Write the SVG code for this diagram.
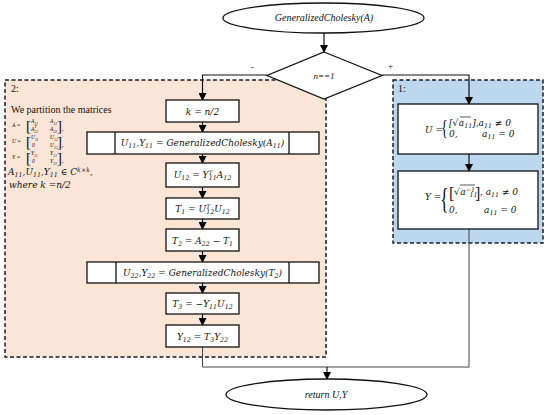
<svg xmlns="http://www.w3.org/2000/svg" width="550" height="415" viewBox="0 0 550 415">
<defs>
<marker id="ah" markerWidth="8" markerHeight="8" refX="7" refY="4" orient="auto" markerUnits="userSpaceOnUse">
<path d="M0,0 L8,4 L0,8 Z" fill="#000"/>
</marker>
<style>
.t{font-family:"Liberation Serif","Times New Roman",serif;fill:#111}
.i{font-style:italic}
.m{font-family:"DejaVu Serif","Liberation Serif",serif;font-style:italic;fill:#111;font-size:9px}
.sb{font-size:70%;baseline-shift:-1.8px}
.sp{font-size:70%;baseline-shift:3px}
.box{fill:#fff;stroke:#111;stroke-width:1.3}
.reg{stroke:#1b1b2a;stroke-width:1.5;stroke-dasharray:4 2.5}
.c{fill:none;stroke:#111;stroke-width:1.2}
.c2{fill:none;stroke:#444;stroke-width:1}
.tiny{font-family:"Liberation Serif","Times New Roman",serif;font-style:italic;fill:#111;font-size:5.5px}
</style>
</defs>
<rect width="550" height="415" fill="#fff"/>

<g id="region2">
<rect class="reg" x="5" y="80" width="321" height="277" fill="#FBE5D6"/>
<text class="t" x="11" y="92" font-size="10">2:</text>
<text class="t" x="11" y="113" font-size="10">We partition the matrices</text>
<text class="tiny" x="12" y="127" font-size="7">A =</text>
<text class="t" x="26" y="131" font-size="15">[</text>
<text class="tiny" x="31" y="123">A<tspan class="sb">11</tspan></text>
<text class="tiny" x="50" y="123">A<tspan class="sb">12</tspan></text>
<text class="tiny" x="31" y="131">A<tspan class="sp">T</tspan><tspan class="sb" dx="-2.5">12</tspan></text>
<text class="tiny" x="50" y="131">A<tspan class="sb">22</tspan></text>
<text class="t" x="57" y="131" font-size="15">]</text>
<text class="t" x="62" y="131" font-size="6">,</text>
<text class="tiny" x="12" y="143" font-size="7">U =</text>
<text class="t" x="26" y="147" font-size="15">[</text>
<text class="tiny" x="31" y="139">U<tspan class="sb">11</tspan></text>
<text class="tiny" x="50" y="139">U<tspan class="sb">12</tspan></text>
<text class="tiny" x="32" y="147">0</text>
<text class="tiny" x="50" y="147">U<tspan class="sb">22</tspan></text>
<text class="t" x="57" y="147" font-size="15">]</text>
<text class="t" x="62" y="147" font-size="6">,</text>
<text class="tiny" x="12" y="159" font-size="7">Y =</text>
<text class="t" x="26" y="163" font-size="15">[</text>
<text class="tiny" x="31" y="155">Y<tspan class="sb">11</tspan></text>
<text class="tiny" x="50" y="155">Y<tspan class="sb">12</tspan></text>
<text class="tiny" x="32" y="163">0</text>
<text class="tiny" x="50" y="163">Y<tspan class="sb">22</tspan></text>
<text class="t" x="57" y="163" font-size="15">]</text>
<text class="t" x="62" y="163" font-size="6">,</text>
<text class="m" x="8" y="175" font-size="9.5">A<tspan class="sb">11</tspan>,U<tspan class="sb">11</tspan>,Y<tspan class="sb">11</tspan> ∈ C<tspan class="sp">k×k</tspan>,</text>
<text class="m" x="9" y="188" font-size="9.5">where k =n/2</text>
</g>

<g id="region1">
<rect class="reg" x="393" y="80" width="150" height="163" fill="#BDD7EE"/>
<text class="t" x="398" y="92" font-size="10">1:</text>
</g>

<g id="connectors">
<line class="c" x1="324" y1="33" x2="324" y2="52" marker-end="url(#ah)"/>
<polyline class="c" points="267,75 202.5,75 202.5,100" marker-end="url(#ah)"/>
<polyline class="c" points="382,75 469,75 469,104" marker-end="url(#ah)"/>
<line class="c" x1="202.5" y1="122" x2="202.5" y2="132" marker-end="url(#ah)"/>
<line class="c" x1="202.5" y1="154" x2="202.5" y2="163" marker-end="url(#ah)"/>
<line class="c" x1="202.5" y1="187" x2="202.5" y2="198" marker-end="url(#ah)"/>
<line class="c" x1="202.5" y1="219" x2="202.5" y2="229" marker-end="url(#ah)"/>
<line class="c" x1="202.5" y1="251" x2="202.5" y2="262" marker-end="url(#ah)"/>
<line class="c" x1="202.5" y1="283" x2="202.5" y2="293" marker-end="url(#ah)"/>
<line class="c" x1="202.5" y1="314" x2="202.5" y2="325" marker-end="url(#ah)"/>
<line class="c" x1="469" y1="154" x2="469" y2="171" marker-end="url(#ah)"/>
<polyline class="c2" points="202.5,347 202.5,367 469,367 469,229"/>
<line class="c" x1="327" y1="367" x2="327" y2="379" marker-end="url(#ah)"/>
<text class="t" x="251" y="70" font-size="9">-</text>
<text class="t" x="388" y="69" font-size="9">+</text>
</g>

<g id="start">
<ellipse cx="323.5" cy="18" rx="100.5" ry="15" fill="#fff" stroke="#111" stroke-width="1.3"/>
<text class="t i" x="324" y="21" font-size="10" text-anchor="middle">GeneralizedCholesky(A)</text>
</g>

<g id="decision">
<polygon class="box" points="324,52 382,75.5 324,99 267,75.5"/>
<text class="t i" x="324" y="78.5" font-size="9" text-anchor="middle">n==1</text>
</g>

<g id="k">
<rect class="box" x="166" y="100" width="73" height="22"/>
<text class="m" x="202.5" y="114.5" text-anchor="middle" font-size="9.5">k = n/2</text>
</g>

<g id="rec1">
<rect class="box" x="87" y="132" width="232" height="22"/>
<line class="box" x1="115" y1="132" x2="115" y2="154"/>
<line class="box" x1="289" y1="132" x2="289" y2="154"/>
<text class="m" x="202.5" y="146" font-size="8.2" text-anchor="middle">U<tspan class="sb">11</tspan>,Y<tspan class="sb">11</tspan> = GeneralizedCholesky(A<tspan class="sb">11</tspan>)</text>
</g>

<g id="u12">
<rect class="box" x="166" y="163" width="73" height="24"/>
<text class="m" x="202.5" y="178" text-anchor="middle">U<tspan class="sb">12</tspan> = Y<tspan class="sp">T</tspan><tspan class="sb" dx="-4">11</tspan>A<tspan class="sb">12</tspan></text>
</g>

<g id="t1">
<rect class="box" x="166" y="198" width="73" height="21"/>
<text class="m" x="202.5" y="212" text-anchor="middle">T<tspan class="sb">1</tspan> = U<tspan class="sp">T</tspan><tspan class="sb" dx="-4">12</tspan>U<tspan class="sb">12</tspan></text>
</g>

<g id="t2">
<rect class="box" x="166" y="229" width="73" height="22"/>
<text class="m" x="202.5" y="243.5" text-anchor="middle">T<tspan class="sb">2</tspan> = A<tspan class="sb">22</tspan> − T<tspan class="sb">1</tspan></text>
</g>

<g id="rec2">
<rect class="box" x="87" y="262" width="232" height="21"/>
<line class="box" x1="116" y1="262" x2="116" y2="283"/>
<line class="box" x1="289" y1="262" x2="289" y2="283"/>
<text class="m" x="202.5" y="275.5" font-size="8.2" text-anchor="middle">U<tspan class="sb">22</tspan>,Y<tspan class="sb">22</tspan> = GeneralizedCholesky(T<tspan class="sb">2</tspan>)</text>
</g>

<g id="t3">
<rect class="box" x="166" y="293" width="73" height="21"/>
<text class="m" x="202.5" y="307" text-anchor="middle">T<tspan class="sb">3</tspan> = −Y<tspan class="sb">11</tspan>U<tspan class="sb">12</tspan></text>
</g>

<g id="y12">
<rect class="box" x="166" y="325" width="73" height="22"/>
<text class="m" x="202.5" y="339.5" text-anchor="middle">Y<tspan class="sb">12</tspan> = T<tspan class="sb">3</tspan>Y<tspan class="sb">22</tspan></text>
</g>

<g id="ubox">
<rect class="box" x="398" y="104" width="140" height="50"/>
<text class="m" x="425" y="133" font-size="8">U =</text>
<text class="t" x="0" y="134" font-size="20" transform="translate(441,0) scale(0.7,1)">{</text>
<text class="m" x="449" y="126" font-size="8">[√<tspan dx="0.5">a</tspan><tspan class="sb">11</tspan>],a<tspan class="sb">11</tspan> ≠ 0</text>
<line x1="460" y1="117" x2="471" y2="117" stroke="#111" stroke-width="0.7"/>
<text class="m" x="449" y="137" font-size="8">0,</text>
<text class="m" x="482" y="137" font-size="8">a<tspan class="sb">11</tspan> = 0</text>
</g>

<g id="ybox">
<rect class="box" x="398" y="171" width="140" height="58"/>
<text class="m" x="425" y="200" font-size="8">Y =</text>
<text class="t" x="0" y="208" font-size="30" transform="translate(440,0) scale(0.6,1)">{</text>
<text class="t" x="449" y="199" font-size="16">[</text>
<text class="m" x="454" y="195" font-size="8">√<tspan dx="0.5">a</tspan><tspan class="sp">−1</tspan><tspan class="sb" dx="-5.5">11</tspan></text>
<line x1="460" y1="185" x2="475" y2="185" stroke="#111" stroke-width="0.7"/>
<text class="t" x="475" y="199" font-size="16">]</text>
<text class="m" x="480" y="195" font-size="8">, a<tspan class="sb">11</tspan> ≠ 0</text>
<text class="m" x="449" y="213" font-size="8">0,</text>
<text class="m" x="484" y="213" font-size="8">a<tspan class="sb">11</tspan> = 0</text>
</g>

<g id="end">
<ellipse cx="326.5" cy="394.5" rx="100.5" ry="15.5" fill="#fff" stroke="#111" stroke-width="1.3"/>
<text class="t i" x="326" y="398" font-size="10" text-anchor="middle">return U,Y</text>
</g>
</svg>
